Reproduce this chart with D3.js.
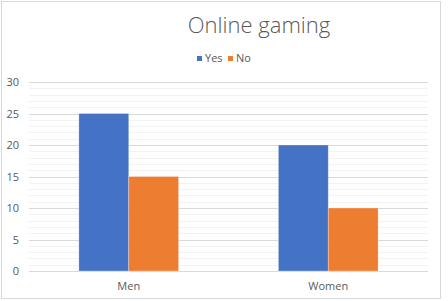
<!DOCTYPE html>
<meta charset="utf-8">
<script src="https://d3js.org/d3.v7.min.js"></script>
<style>
  body { margin: 0; background: #fff; }
  text { font-family: "Open Sans", "Liberation Sans", sans-serif; fill: #595959; }
</style>
<div id="chart"></div>
<script>
// data
var categories = ["Men", "Women"];
var seriesNames = ["Yes", "No"];
var yesValues = [25, 20];
var noValues = [15, 10];
var yTicks = [0, 5, 10, 15, 20, 25, 30];
var colors = ["#4472C4", "#ED7D31"];

var W = 448, H = 301;
var plot = {left: 29, right: 428, top: 82, bottom: 271};

var svg = d3.select("#chart").append("svg")
  .attr("width", W).attr("height", H);

// chart border
svg.append("rect")
  .attr("x", 1.5).attr("y", 1.5)
  .attr("width", 439).attr("height", 297)
  .attr("fill", "#fff").attr("stroke", "#d9d9d9");

var y = d3.scaleLinear().domain([0, 30]).range([plot.bottom, plot.top]);
var x0 = d3.scaleBand().domain(categories).range([plot.left, plot.right]);
var x1 = d3.scaleBand().domain(seriesNames)
  .range([0, x0.bandwidth()]).paddingOuter(1).paddingInner(0);

// minor gridlines
svg.append("g").selectAll("line")
  .data(d3.range(0, 31).filter(function(v){ return v % 5 !== 0; }))
  .enter().append("line")
    .attr("x1", plot.left).attr("x2", plot.right)
    .attr("y1", function(d){ return Math.round(y(d)) + 0.5; })
    .attr("y2", function(d){ return Math.round(y(d)) + 0.5; })
    .attr("stroke", "#f2f2f2");

// major gridlines
svg.append("g").selectAll("line")
  .data(yTicks)
  .enter().append("line")
    .attr("x1", plot.left).attr("x2", plot.right)
    .attr("y1", function(d){ return Math.round(y(d)) + 0.5; })
    .attr("y2", function(d){ return Math.round(y(d)) + 0.5; })
    .attr("stroke", "#d9d9d9");

// y labels
svg.append("g").selectAll("text")
  .data(yTicks)
  .enter().append("text")
    .attr("x", 19)
    .attr("y", function(d){ return y(d) + 4; })
    .attr("text-anchor", "end")
    .style("font-size", "11px")
    .text(function(d){ return d; });

// bars
var rows = categories.map(function(c, i){
  return {cat: c, vals: [yesValues[i], noValues[i]]};
});
var groups = svg.append("g").selectAll("g")
  .data(rows)
  .enter().append("g")
    .attr("transform", function(d){ return "translate(" + x0(d.cat) + ",0)"; });

groups.selectAll("rect")
  .data(function(d){ return d.vals.map(function(v, j){ return {s: seriesNames[j], v: v, j: j}; }); })
  .enter().append("rect")
    .attr("x", function(d){ return x1(d.s); })
    .attr("y", function(d){ return y(d.v); })
    .attr("width", x1.bandwidth())
    .attr("height", function(d){ return y(0) - y(d.v); })
    .attr("fill", function(d){ return colors[d.j]; })
    .attr("stroke", "#fff").attr("stroke-opacity", 0.4).attr("stroke-width", 0.75);

// x labels
svg.append("g").selectAll("text")
  .data(categories)
  .enter().append("text")
    .attr("x", function(d){ return x0(d) + x0.bandwidth() / 2; })
    .attr("y", 290)
    .attr("text-anchor", "middle")
    .style("font-size", "11px")
    .text(function(d){ return d; });

// title
svg.append("text")
  .attr("x", 259).attr("y", 33)
  .attr("text-anchor", "middle")
  .style("font-size", "22px")
  .style("font-weight", "300")
  .text("Online gaming");

// legend
var legend = svg.append("g").attr("transform", "translate(197,0)");
var lx = [0, 31];
seriesNames.forEach(function(s, i){
  legend.append("rect")
    .attr("x", lx[i]).attr("y", 56)
    .attr("width", 5).attr("height", 5)
    .attr("fill", colors[i]);
  legend.append("text")
    .attr("x", lx[i] + 8).attr("y", 62)
    .style("font-size", "11px")
    .text(s);
});
</script>
